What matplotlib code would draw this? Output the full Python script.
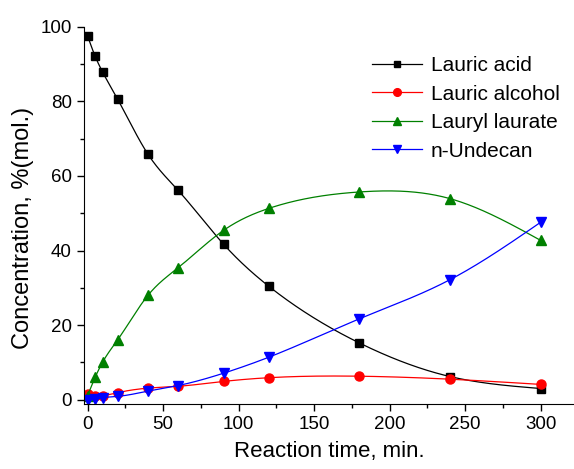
import numpy as np
import matplotlib
matplotlib.use('Agg')
import matplotlib.pyplot as plt
from matplotlib.ticker import MultipleLocator

plt.rcParams['font.family'] = ['Liberation Sans', 'DejaVu Sans']

# reaction time, min
time = [0, 5, 10, 20, 40, 60, 90, 120, 180, 240, 300]

# concentration, %(mol.)
lauric_acid = [97.5, 92.1, 87.8, 80.5, 65.8, 56.1, 41.7, 30.4, 15.2, 6.2, 3.0]
lauric_alcohol = [1.6, 1.1, 1.1, 1.9, 3.1, 3.6, 4.9, 5.9, 6.3, 5.5, 4.1]
lauryl_laurate = [1.1, 6.0, 10.1, 16.1, 28.0, 35.4, 45.4, 51.3, 55.7, 53.9, 42.7]
n_undecan = [0.0, 0.1, 0.5, 0.9, 2.3, 3.8, 7.1, 11.4, 21.7, 32.2, 47.6]


def natural_spline(x, y, xs):
    # plain natural cubic spline, only used to draw the smooth line
    x = np.asarray(x, float)
    y = np.asarray(y, float)
    n = len(x)
    h = np.diff(x)
    A = np.zeros((n, n))
    b = np.zeros(n)
    A[0, 0] = A[-1, -1] = 1
    for i in range(1, n - 1):
        A[i, i - 1] = h[i - 1]
        A[i, i] = 2 * (h[i - 1] + h[i])
        A[i, i + 1] = h[i]
        b[i] = 6 * ((y[i + 1] - y[i]) / h[i] - (y[i] - y[i - 1]) / h[i - 1])
    M = np.linalg.solve(A, b)
    idx = np.clip(np.searchsorted(x, xs) - 1, 0, n - 2)
    x0, x1 = x[idx], x[idx + 1]
    hh = x1 - x0
    t0 = x1 - xs
    t1 = xs - x0
    return (M[idx] * t0 ** 3 / (6 * hh) + M[idx + 1] * t1 ** 3 / (6 * hh)
            + (y[idx] / hh - M[idx] * hh / 6) * t0
            + (y[idx + 1] / hh - M[idx + 1] * hh / 6) * t1)


fig = plt.figure(figsize=(5.74, 4.69), dpi=100)
ax = fig.add_axes([0.146, 0.139, 0.854, 0.804])

xs = np.linspace(0, 300, 600)
series = [
    (lauric_acid, 'Lauric acid', 'black', 's', 5.5),
    (lauric_alcohol, 'Lauric alcohol', 'red', 'o', 6.5),
    (lauryl_laurate, 'Lauryl laurate', 'green', '^', 7),
    (n_undecan, 'n-Undecan', 'blue', 'v', 7),
]
for vals, name, col, mk, ms in series:
    ax.plot(xs, natural_spline(time, vals, xs), color=col, lw=0.9)
    ax.plot(time, vals, linestyle='none', marker=mk, color=col, ms=ms)
    # legend proxy with line and marker
    ax.plot([], [], color=col, lw=0.9, marker=mk, ms=ms * 0.85, label=name)

ax.set_xlim(-2.5, 322)
ax.set_ylim(-1.1, 100)
ax.spines['top'].set_visible(False)
ax.spines['right'].set_visible(False)
ax.xaxis.set_major_locator(MultipleLocator(50))
ax.xaxis.set_minor_locator(MultipleLocator(25))
ax.yaxis.set_major_locator(MultipleLocator(20))
ax.yaxis.set_minor_locator(MultipleLocator(10))
ax.tick_params(which='major', direction='out', length=5, width=1, labelsize=13.5)
ax.tick_params(which='minor', direction='out', length=3, width=1)
ax.set_xlabel('Reaction time, min.', fontsize=16, labelpad=6)
ax.set_ylabel('Concentration, %(mol.)', fontsize=17, labelpad=5, y=0.467)

ax.legend(loc='upper right', bbox_to_anchor=(1.0, 0.96), frameon=False,
          fontsize=15, handlelength=2.4, handletextpad=0.4, labelspacing=0.45,
          borderaxespad=0.3)

fig.savefig('out.png', dpi=100)
